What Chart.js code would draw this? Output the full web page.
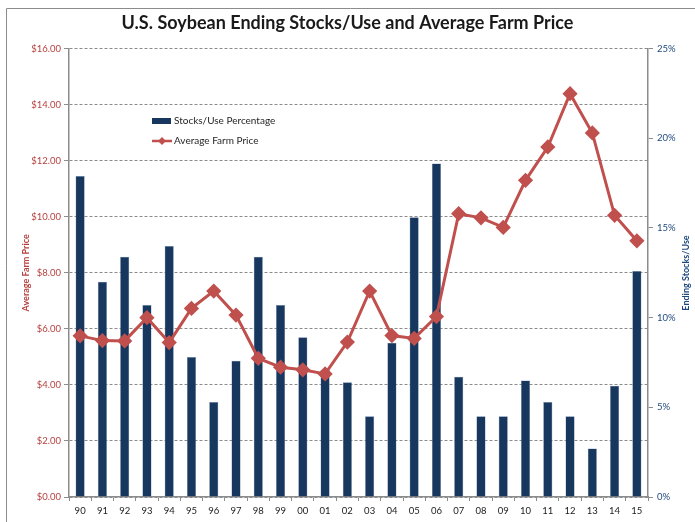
<!DOCTYPE html>
<html>
<head>
<meta charset="utf-8">
<script src="https://cdn.jsdelivr.net/npm/chart.js@4/dist/chart.umd.min.js"></script>
<style>
  body { margin: 0; background: #fff; }
  #soyChart { display: block; }
</style>
</head>
<body>
<canvas id="soyChart" width="695" height="522"></canvas>
<script>
const TITLE = "U.S. Soybean Ending Stocks/Use and Average Farm Price";

const YEARS = ["90", "91", "92", "93", "94", "95", "96", "97", "98", "99", "00", "01", "02",
  "03", "04", "05", "06", "07", "08", "09", "10", "11", "12", "13", "14", "15"];

// ending stocks as % of use
const STOCKS_USE = [17.9, 12.0, 13.4, 10.7, 14.0, 7.8, 5.3, 7.6, 13.4, 10.7, 8.9, 7.1, 6.4,
  4.5, 8.6, 15.6, 18.6, 6.7, 4.5, 4.5, 6.5, 5.3, 4.5, 2.7, 6.2, 12.6];

// average farm price, $/bu
const FARM_PRICE = [5.75, 5.58, 5.57, 6.40, 5.51, 6.73, 7.35, 6.49, 4.95, 4.63, 4.54, 4.39, 5.53,
  7.35, 5.76, 5.66, 6.44, 10.11, 9.96, 9.62, 11.30, 12.49, 14.39, 12.99, 10.05, 9.14];

const BAR_COLOR = "#17375E";
const LINE_COLOR = "#C0504D";
const PRICE_TEXT = "#B5413E";
const PCT_TEXT = "#1F497D";
const AXIS_GRAY = "#8C8C8C";
const FONT = "Lato, 'Open Sans', sans-serif";

// frame, right axis title and legend box drawn inside the plot like the original
const extras = {
  id: "extras",
  afterDraw(chart) {
    const ctx = chart.ctx;
    const priceSet = chart.data.datasets[0];
    const stockSet = chart.data.datasets[1];
    ctx.save();
    ctx.strokeStyle = AXIS_GRAY;
    ctx.lineWidth = 1;
    ctx.beginPath();
    ctx.moveTo(6.5, 522);
    ctx.lineTo(6.5, 8.5);
    ctx.lineTo(695, 8.5);
    ctx.stroke();

    // right axis title, reads bottom to top
    ctx.translate(686, 273);
    ctx.rotate(-Math.PI / 2);
    ctx.fillStyle = PCT_TEXT;
    ctx.font = "bold 9px " + FONT;
    ctx.textAlign = "center";
    ctx.textBaseline = "middle";
    ctx.fillText("Ending Stocks/Use", 0, 0);
    ctx.restore();

    ctx.save();
    ctx.font = "10px " + FONT;
    ctx.textBaseline = "middle";
    ctx.fillStyle = BAR_COLOR;
    ctx.fillRect(152, 118, 19, 6);
    ctx.fillStyle = "#262626";
    ctx.fillText(stockSet.label, 174, 121);

    ctx.strokeStyle = LINE_COLOR;
    ctx.lineWidth = 2.5;
    ctx.beginPath();
    ctx.moveTo(152, 141);
    ctx.lineTo(172, 141);
    ctx.stroke();
    ctx.fillStyle = LINE_COLOR;
    ctx.beginPath();
    ctx.moveTo(162, 137);
    ctx.lineTo(166, 141);
    ctx.lineTo(162, 145);
    ctx.lineTo(158, 141);
    ctx.closePath();
    ctx.fill();
    ctx.fillStyle = "#262626";
    ctx.fillText(priceSet.label, 174, 141);
    ctx.restore();
  },
};

const config = {
  type: "bar",
  data: {
    labels: YEARS,
    datasets: [
      {
        type: "line",
        label: "Average Farm Price",
        data: FARM_PRICE,
        yAxisID: "yPrice",
        borderColor: LINE_COLOR,
        backgroundColor: LINE_COLOR,
        borderWidth: 3,
        pointStyle: "rectRot",
        pointRadius: 5.5,
        pointBackgroundColor: LINE_COLOR,
        pointBorderColor: LINE_COLOR,
        tension: 0,
        order: 0,
      },
      {
        label: "Stocks/Use Percentage",
        data: STOCKS_USE,
        yAxisID: "yPct",
        backgroundColor: BAR_COLOR,
        borderColor: "#6F8BAE",
        borderWidth: 0.5,
        categoryPercentage: 1,
        barPercentage: 0.41,
        order: 1,
      },
    ],
  },
  options: {
    responsive: false,
    animation: false,
    layout: { padding: 0 },
    plugins: {
      legend: { display: false },
      tooltip: { enabled: false },
      title: {
        display: true,
        text: TITLE,
        color: "#1a1a1a",
        font: { family: FONT, size: 18, weight: "bold" },
        padding: { top: 12, bottom: 15 },
      },
    },
    scales: {
      x: {
        offset: true,
        grid: {
          offset: true,
          drawOnChartArea: false,
          color: AXIS_GRAY,
          tickLength: 4,
        },
        border: { color: AXIS_GRAY, width: 1.5 },
        ticks: { color: "#1a1a1a", font: { family: FONT, size: 9.5 }, padding: 4, maxRotation: 0 },
        afterFit(scale) { scale.height = 25; },
      },
      yPrice: {
        position: "left",
        min: 0,
        max: 16,
        ticks: {
          stepSize: 2,
          color: PRICE_TEXT,
          padding: 3,
          font: { family: FONT, size: 9.5 },
          callback: (v) => "$" + v.toFixed(2),
        },
        grid: { color: AXIS_GRAY, lineWidth: 1, tickLength: 5 },
        border: { color: AXIS_GRAY, width: 1.5, dash: [3, 2] },
        title: {
          display: true,
          text: "Average Farm Price",
          color: PRICE_TEXT,
          font: { family: FONT, size: 9, weight: "bold" },
          padding: { top: 21, bottom: 0 },
        },
        afterFit(scale) { scale.width = 69; },
      },
      yPct: {
        position: "right",
        min: 0,
        max: 25,
        ticks: {
          stepSize: 5,
          color: PCT_TEXT,
          padding: 4,
          font: { family: FONT, size: 9.5 },
          callback: (v) => v + "%",
        },
        grid: { drawOnChartArea: false, color: AXIS_GRAY, tickLength: 5 },
        border: { color: AXIS_GRAY, width: 1.5 },
        afterFit(scale) { scale.width = 47; },
      },
    },
  },
  plugins: [extras],
};

const ctx = document.getElementById("soyChart").getContext("2d");

new Chart(ctx, config);
</script>
</body>
</html>
